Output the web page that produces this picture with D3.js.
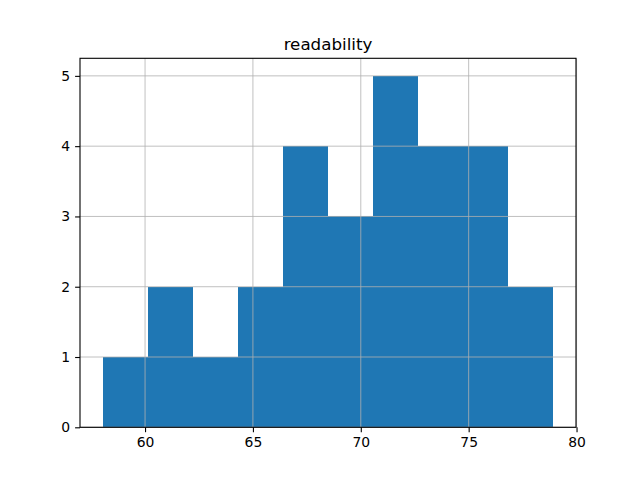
<!DOCTYPE html>
<html><head><meta charset="utf-8">
<script src="https://cdn.jsdelivr.net/npm/d3@7"></script>
<style>body{margin:0;background:#fff}svg{display:block}text{font-family:"DejaVu Sans",sans-serif;fill:#000}</style>
</head><body>
<script>
const title = "readability";
const binEdges = [58.03, 60.12, 62.21, 64.30, 66.39, 68.48, 70.57, 72.66, 74.75, 76.84, 78.93];
const counts = [1, 2, 1, 2, 4, 3, 5, 4, 4, 2];
const xTicks = [60, 65, 70, 75, 80];
const yTicks = [0, 1, 2, 3, 4, 5];

const W = 640, H = 480;
const m = {left: 80, right: 576, top: 58.3, bottom: 427.3};
const svg = d3.select("body").append("svg").attr("width", W).attr("height", H);

const span = binEdges[binEdges.length-1] - binEdges[0];
const x = d3.scaleLinear().domain([binEdges[0] - 0.05*span, binEdges[binEdges.length-1] + 0.05*span]).range([m.left, m.right]);
const y = d3.scaleLinear().domain([0, d3.max(counts)*1.05]).range([m.bottom, m.top]);

const bins = counts.map((c, i) => ({x0: binEdges[i], x1: binEdges[i+1], c}));
svg.append("g").selectAll("rect").data(bins).join("rect")
  .attr("x", d => x(d.x0)).attr("width", d => x(d.x1) - x(d.x0))
  .attr("y", d => y(d.c)).attr("height", d => y(0) - y(d.c))
  .attr("fill", "#1f77b4").attr("shape-rendering", "crispEdges");

// grid
const g = svg.append("g").attr("stroke", "#b0b0b0").attr("stroke-width", 0.8);
xTicks.forEach(t => g.append("line").attr("x1", x(t)).attr("x2", x(t)).attr("y1", m.top).attr("y2", m.bottom));
yTicks.forEach(t => g.append("line").attr("x1", m.left).attr("x2", m.right).attr("y1", y(t)).attr("y2", y(t)));

// axes
const xAxis = d3.axisBottom(x).tickValues(xTicks).tickSize(4.9).tickPadding(4.9).tickFormat(d3.format("d"));
const yAxis = d3.axisLeft(y).tickValues(yTicks).tickSize(4.9).tickPadding(4.9).tickFormat(d3.format("d"));
const gx = svg.append("g").attr("transform", `translate(0,${m.bottom})`).call(xAxis);
const gy = svg.append("g").attr("transform", `translate(${m.left},0)`).call(yAxis);
[gx, gy].forEach(a => {
  a.select(".domain").remove();
  a.selectAll("line").attr("stroke", "#000").attr("stroke-width", 1.1);
  a.selectAll("text").attr("font-size", "13.9px").attr("font-family", "DejaVu Sans").attr("fill", "#000");
});

// spines
svg.append("rect").attr("x", m.left).attr("y", m.top).attr("width", m.right - m.left).attr("height", m.bottom - m.top)
  .attr("fill", "none").attr("stroke", "#000").attr("stroke-width", 1.1);

svg.append("text").attr("x", (m.left + m.right)/2).attr("y", m.top - 8.3)
  .attr("text-anchor", "middle").attr("font-size", "16.7px").text(title);
</script>
</body></html>
